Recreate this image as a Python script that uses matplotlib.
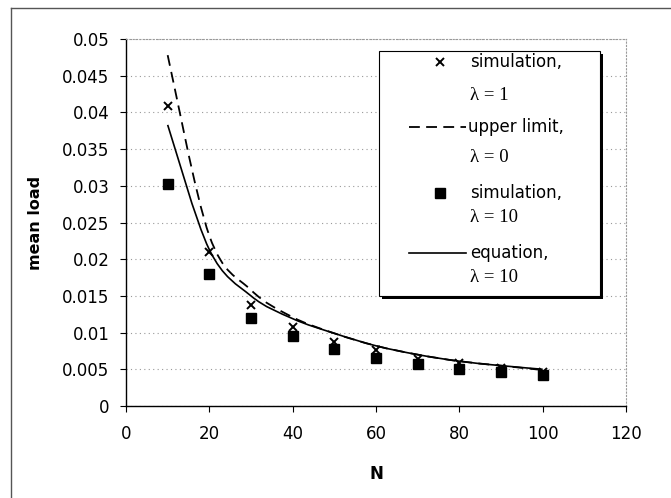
import numpy as np
import matplotlib
matplotlib.use("Agg")
import matplotlib.pyplot as plt
from matplotlib.path import Path
from matplotlib.patches import PathPatch, Rectangle
from matplotlib.lines import Line2D
from matplotlib.ticker import FuncFormatter, MultipleLocator

#%% Daten
N = [10, 20, 30, 40, 50, 60, 70, 80, 90, 100]
sim_lam1 = [0.0409, 0.0210, 0.0137, 0.0107, 0.0087, 0.0076, 0.0064, 0.0058, 0.0052, 0.0046]
upper_lam0 = [0.0478, 0.0232, 0.0158, 0.0121, 0.0099, 0.0082, 0.0070, 0.0061, 0.0055, 0.0049]
sim_lam10 = [0.0302, 0.0180, 0.0120, 0.0096, 0.0078, 0.0066, 0.0057, 0.0050, 0.0047, 0.0042]
eq_lam10 = [0.0383, 0.0213, 0.0150, 0.0119, 0.0099, 0.0082, 0.0070, 0.0061, 0.0055, 0.0050]

x_ticks = [0, 20, 40, 60, 80, 100, 120]

W, H = 671, 498


def fx(px):
    return px / W


def fy(py):
    return 1 - py / H


# geglaettete Linie wie in Excel (Bezier durch die Punkte)
def smooth_path(xs, ys):
    pts = np.column_stack([xs, ys]).astype(float)
    n = len(pts)
    verts = [pts[0]]
    codes = [Path.MOVETO]
    for i in range(n - 1):
        p0 = pts[max(i - 1, 0)]
        p1 = pts[i]
        p2 = pts[i + 1]
        p3 = pts[min(i + 2, n - 1)]
        c1 = p1 + (p2 - p0) / 6
        c2 = p2 - (p3 - p1) / 6
        verts += [c1, c2, p2]
        codes += [Path.CURVE4] * 3
    return Path(verts, codes)


#%% Plot
fig = plt.figure(figsize=(W / 100, H / 100), dpi=100)
ax = fig.add_axes([fx(126), fy(406), fx(626) - fx(126), fy(39) - fy(406)])

ax.set_xlim(0, 120)
ax.set_ylim(0, 0.05)
ax.yaxis.set_major_locator(MultipleLocator(0.005))
ax.set_xticks(x_ticks)
ax.yaxis.set_major_formatter(FuncFormatter(lambda v, p: "0" if abs(v) < 1e-12 else "%g" % round(v, 4)))

ax.grid(axis="y", color="#999999", linestyle=(0, (1, 3)), linewidth=0.8)
ax.set_axisbelow(True)

for s in ["top", "right"]:
    ax.spines[s].set_color("#999999")
    ax.spines[s].set_linestyle((0, (1, 2)))
    ax.spines[s].set_linewidth(0.8)
for s in ["left", "bottom"]:
    ax.spines[s].set_linewidth(1.0)

ax.tick_params(axis="both", direction="out", length=4, width=0.8, labelsize=12)
ax.tick_params(axis="y", pad=8)
ax.tick_params(axis="x", pad=10)

# Kurven
ax.add_patch(PathPatch(smooth_path(N, upper_lam0), fill=False, edgecolor="black",
                       linewidth=1.3, linestyle=(0, (6, 3.5))))
ax.add_patch(PathPatch(smooth_path(N, eq_lam10), fill=False, edgecolor="black",
                       linewidth=1.2))

# Simulationspunkte
ax.plot(N, sim_lam1, linestyle="none", marker="x", color="black", markersize=6, markeredgewidth=1.4)
ax.plot(N, sim_lam10, linestyle="none", marker="s", color="black", markersize=6.5)

ax.set_xlabel("N", fontsize=12, fontweight="bold")
ax.set_ylabel("mean load", fontsize=11.5, fontweight="bold")
ax.xaxis.set_label_coords(0.5, -0.16)
ax.yaxis.set_label_coords(-0.166, 0.5)

#%% Legende (manuell, mit schwarzem Schatten)
fig.add_artist(Rectangle((fx(382), fy(299)), fx(603) - fx(382), fy(54) - fy(299),
                         transform=fig.transFigure, facecolor="black", edgecolor="none", zorder=5))
fig.add_artist(Rectangle((fx(379), fy(296)), fx(600) - fx(379), fy(51) - fy(296),
                         transform=fig.transFigure, facecolor="white", edgecolor="black",
                         linewidth=0.8, zorder=6))

txt_kw = dict(transform=fig.transFigure, va="center", ha="left", zorder=7)
sans = dict(fontsize=12, family="DejaVu Sans")
serif = dict(fontsize=13.5, family="Liberation Serif")

fig.add_artist(Line2D([fx(440)], [fy(62)], transform=fig.transFigure, marker="x", color="black",
                      markersize=6, markeredgewidth=1.4, linestyle="none", zorder=7))
fig.text(fx(470), fy(62), "simulation,", **txt_kw, **sans)
fig.text(fx(470), fy(96), "λ = 1", **txt_kw, **serif)

fig.add_artist(Line2D([fx(409), fx(466)], [fy(127), fy(127)], transform=fig.transFigure,
                      color="black", linewidth=1.3, linestyle=(0, (6, 3.5)), zorder=7))
fig.text(fx(468), fy(127), "upper limit,", **txt_kw, **sans)
fig.text(fx(470), fy(157), "λ = 0", **txt_kw, **serif)

fig.add_artist(Line2D([fx(440)], [fy(193)], transform=fig.transFigure, marker="s", color="black",
                      markersize=6.5, linestyle="none", zorder=7))
fig.text(fx(470), fy(193), "simulation,", **txt_kw, **sans)
fig.text(fx(470), fy(217), "λ = 10", **txt_kw, **serif)

fig.add_artist(Line2D([fx(409), fx(466)], [fy(253), fy(253)], transform=fig.transFigure,
                      color="black", linewidth=1.2, zorder=7))
fig.text(fx(470), fy(253), "equation,", **txt_kw, **sans)
fig.text(fx(470), fy(277), "λ = 10", **txt_kw, **serif)

# Rahmen oben und links (Bild ist rechts/unten abgeschnitten)
fig.add_artist(Line2D([fx(11), fx(671)], [fy(8), fy(8)], transform=fig.transFigure,
                      color="#555555", linewidth=1.0))
fig.add_artist(Line2D([fx(11), fx(11)], [fy(8), fy(498)], transform=fig.transFigure,
                      color="#555555", linewidth=1.0))

fig.savefig("out.png", dpi=100)
